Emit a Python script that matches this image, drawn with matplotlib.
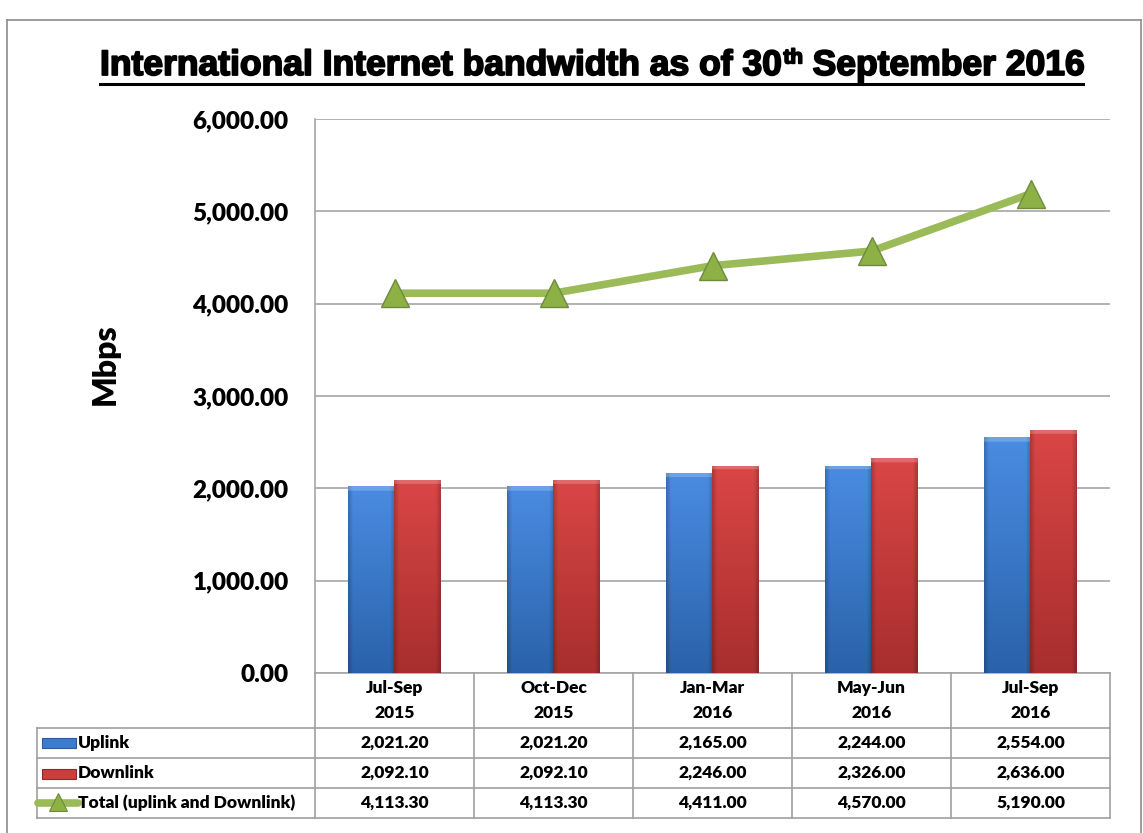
import matplotlib
matplotlib.use('Agg')
import matplotlib.pyplot as plt
import numpy as np
from matplotlib import transforms
from matplotlib.patches import Rectangle
from matplotlib.lines import Line2D
import matplotlib.patheffects as pe

# ---------------- data ----------------
categories = ["Jul-Sep\n2015", "Oct-Dec\n2015", "Jan-Mar\n2016", "May-Jun\n2016", "Jul-Sep\n2016"]
uplink = [2021.20, 2021.20, 2165.00, 2244.00, 2554.00]
downlink = [2092.10, 2092.10, 2246.00, 2326.00, 2636.00]
total = [4113.30, 4113.30, 4411.00, 4570.00, 5190.00]
series_names = ["Uplink", "Downlink", "Total (uplink and Downlink)"]
yticks = [0, 1000, 2000, 3000, 4000, 5000, 6000]
title_parts = ["International Internet bandwidth as of 30", "th", " September 2016"]
ylabel = "Mbps"

# ---------------- figure ----------------
W, H = 1143, 833
FONT = ['Lato', 'DejaVu Sans']
FW = 'heavy'
TFONT = ['Liberation Sans Narrow', 'Liberation Sans', 'DejaVu Sans']
GRID = '#A6A6A6'
BLUE_T, BLUE_B = (74/255, 140/255, 226/255), (42/255, 98/255, 170/255)
RED_T, RED_B = (218/255, 70/255, 70/255), (168/255, 46/255, 46/255)
GREEN = '#9BBB59'

fig = plt.figure(figsize=(W / 100, H / 100), dpi=100)


def Y(y):  # convert top-based pixel y to overlay coordinates
    return H - y


# overlay axes in pixel coordinates
ov = fig.add_axes([0, 0, 1, 1], zorder=3)
ov.set_xlim(0, W)
ov.set_ylim(0, H)
ov.axis('off')
ov.patch.set_alpha(0)

# main plot axes
L, R, T, B = 315, 1110, 119, 673
ax = fig.add_axes([L / W, (H - B) / H, (R - L) / W, (B - T) / H], zorder=2)

x = np.arange(len(categories))
bw = 0.29
bars_up = ax.bar(x - bw / 2 - 0.005, uplink, width=bw, color=BLUE_T, edgecolor='#2B5C9C',
                 linewidth=0.6, zorder=3)
bars_dn = ax.bar(x + bw / 2 - 0.005, downlink, width=bw, color=RED_T, edgecolor='#8E2A2A',
                 linewidth=0.6, zorder=3)


def gradient_fill(patch, top, bottom):
    x0, y0 = patch.get_x(), patch.get_y()
    w, h = patch.get_width(), patch.get_height()
    ny, nx = 200, 40
    t = np.linspace(0, 1, ny)[:, None, None]
    col = (1 - t) * np.array(top)[None, None, :] + t * np.array(bottom)[None, None, :]
    xs = np.linspace(-1, 1, nx)
    edge = 1 - 0.20 * np.clip((np.abs(xs) - 0.80) / 0.20, 0, 1)
    img = col * edge[None, :, None]
    # bevel highlight at top (~4 px)
    top_units = 4 * 6000 / (B - T)
    frac = min(top_units / h, 0.2)
    rows = np.linspace(0, 1, ny) < frac
    img[rows] = img[rows] * 0.8 + 0.2
    img = np.clip(img, 0, 1)
    im = ax.imshow(img, extent=[x0, x0 + w, y0, y0 + h], origin='upper', aspect='auto',
                   interpolation='bilinear', zorder=3.1)
    im.set_clip_path(patch)


for p in bars_up:
    gradient_fill(p, BLUE_T, BLUE_B)
for p in bars_dn:
    gradient_fill(p, RED_T, RED_B)

ax.plot(x, total, color=GREEN, lw=5.5, solid_capstyle='butt', zorder=5,
        marker='^', ms=20, mfc='#8DB145', mec='#6E8B3D', mew=1.0)

ax.set_xlim(-0.5, len(categories) - 0.5)
ax.set_ylim(0, 6000)
ax.set_yticks(yticks)
ax.set_yticklabels([f"{v:,.2f}" for v in yticks], fontsize=17.5, fontweight=FW,
                   family=FONT)
ax.tick_params(axis='y', length=0, pad=19)
ax.set_xticks([])
ax.grid(axis='y', color=GRID, lw=1.2, zorder=0)
ax.set_axisbelow(True)
for s in ['top', 'right']:
    ax.spines[s].set_visible(False)
for s in ['left', 'bottom']:
    ax.spines[s].set_color(GRID)
    ax.spines[s].set_linewidth(1.2)

# ---------------- data table ----------------
bt = transforms.blended_transform_factory(ax.transData, ov.transData)
row_lines = [728, 758, 788, 818]
row_centers = [743, 773, 803]
TL = 37
LC = '#A0A0A0'
for yy in row_lines:
    ov.add_line(Line2D([TL, R], [Y(yy), Y(yy)], color=LC, lw=1.2))
ov.add_line(Line2D([TL, TL], [Y(728), Y(818)], color=LC, lw=1.2))
for i in range(len(categories) + 1):
    ov.add_line(Line2D([i - 0.5, i - 0.5], [Y(673), Y(818)], color=LC, lw=1.2,
                       transform=bt))

TS = 12.5
for i, c in enumerate(categories):
    l1, l2 = c.split("\n")
    ov.text(i, Y(688), l1, transform=bt, ha='center', va='center', fontsize=TS,
            fontweight=FW, family=FONT)
    ov.text(i, Y(713), l2, transform=bt, ha='center', va='center', fontsize=TS,
            fontweight=FW, family=FONT)
for vals, yc in zip([uplink, downlink, total], row_centers):
    for i, v in enumerate(vals):
        ov.text(i, Y(yc), f"{v:,.2f}", transform=bt, ha='center', va='center',
                fontsize=TS, fontweight=FW, family=FONT)
for name, yc in zip(series_names, row_centers):
    ov.text(78, Y(yc), name, ha='left', va='center', fontsize=TS, fontweight=FW,
            family=FONT)

# legend keys
ov.add_patch(Rectangle((42, Y(748)), 34, 10, facecolor='#3C7BD0', edgecolor='#2A5A9A', lw=0.8))
ov.add_patch(Rectangle((42, Y(779)), 34, 10, facecolor='#CC3D3D', edgecolor='#8E2A2A', lw=0.8))
ov.add_line(Line2D([38, 78], [Y(803), Y(803)], color=GREEN, lw=5.5, solid_capstyle='round'))
ov.add_line(Line2D([58], [Y(802)], marker='^', ms=13, mfc='#8DB145', mec='#6E8B3D', mew=0.8,
                   linestyle='none'))

# y label
ov.text(105, Y(364), ylabel, rotation=90, ha='center', va='center', fontsize=23,
        fontweight=FW, family=FONT)

# ---------------- title ----------------
renderer = fig.canvas.get_renderer()
base = Y(75)
fs0 = 28
t1 = ov.text(0, base, title_parts[0], fontsize=fs0, fontweight='bold', family=TFONT,
             va='baseline', ha='left')
t2 = ov.text(0, base, title_parts[1], fontsize=fs0 * 0.58, fontweight='bold', family=TFONT,
             va='baseline', ha='left')
t3 = ov.text(0, base, title_parts[2], fontsize=fs0, fontweight='bold', family=TFONT,
             va='baseline', ha='left')
wsum = sum(t.get_window_extent(renderer).width for t in (t1, t2, t3))
scale = 983 / wsum
fs = fs0 * scale
t1.set_fontsize(fs)
t2.set_fontsize(fs * 0.58)
t3.set_fontsize(fs)
w1 = t1.get_window_extent(renderer).width
w2 = t2.get_window_extent(renderer).width
x0 = 100
t1.set_position((x0, base))
t2.set_position((x0 + w1 + 1, base + fs * 100 / 72 * 0.33))
t3.set_position((x0 + w1 + w2 + 1, base))
for t in (t1, t2, t3):
    t.set_path_effects([pe.withStroke(linewidth=1.3, foreground='black')])
ov.add_line(Line2D([100, 1083], [Y(84), Y(84)], color='black', lw=2.2))

# ---------------- outer border ----------------
ov.add_line(Line2D([7, 1141], [Y(20), Y(20)], color='#8C8C8C', lw=1.2))
ov.add_line(Line2D([7, 7], [Y(20), 0], color='#8C8C8C', lw=1.2))
ov.add_line(Line2D([1141, 1141], [Y(20), 0], color='#8C8C8C', lw=1.2))

fig.savefig('out.png', dpi=100, facecolor='white')
